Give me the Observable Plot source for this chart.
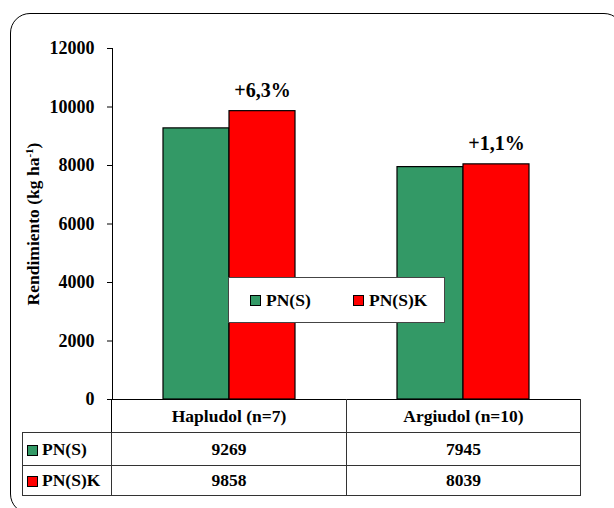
<!DOCTYPE html>
<html>
<head>
<meta charset="utf-8">
<script src="https://cdn.jsdelivr.net/npm/d3@7"></script>
<script src="https://cdn.jsdelivr.net/npm/@observablehq/plot@0.6"></script>
<style>
  html, body { margin: 0; padding: 0; background: #fff; }
  #wrap { position: relative; width: 614px; height: 508px; overflow: hidden; font-family: "Liberation Serif", Tinos, "Times New Roman", "Nimbus Roman", "DejaVu Serif", serif; font-weight: bold; color: #000; }
  #frame { position: absolute; left: 10px; top: 13px; width: 614px; height: 501px; border: 1.6px solid #000; border-radius: 20px; box-sizing: border-box; }
  #chart { position: absolute; left: 0; top: 0; }
  #ylabel { position: absolute; left: 33px; top: 224px; transform: translate(-50%, -50%) rotate(-90deg); white-space: nowrap; font-size: 17.5px; }
  #ylabel sup { font-size: 11px; vertical-align: 6px; line-height: 0; }
  #legend { position: absolute; left: 228px; top: 277px; width: 217px; height: 46px; box-sizing: border-box; border: 1px solid #444; background: #fff; font-size: 17.5px; }
  #legend .item { position: absolute; top: 0; height: 44px; display: flex; align-items: center; }
  .sw { display: inline-block; width: 9px; height: 9px; border: 1px solid #000; margin-right: 5px; }
  #tbl { position: absolute; left: 22px; top: 399px; border-collapse: collapse; table-layout: fixed; font-size: 17.5px; font-weight: bold; font-family: inherit; }
  #tbl td { border: 1px solid #333; text-align: center; padding: 0; vertical-align: middle; }
  #tbl tr.h td { border-top: 1px solid #000; height: 32px; }
  #tbl tr.h td.blank { border-top: none; border-left: none; border-right: 1px solid #000; }
  #tbl tr.r1 td { height: 32px; }
  #tbl tr.r2 td { height: 29px; }
  #tbl td.lab { text-align: left; padding-left: 4px; white-space: nowrap; }
  #tbl td.lab .sw { vertical-align: -1px; margin-right: 4px; }
</style>
</head>
<body>
<div id="wrap">
  <div id="frame"></div>
  <div id="chart"></div>
  <div id="ylabel"></div>
  <div id="legend"></div>
  <table id="tbl"></table>
</div>
<script>
// ---- data ----
const soils = ["Hapludol (n=7)", "Argiudol (n=10)"];
const series = ["PN(S)", "PN(S)K"];
const valuesPNS = [9269, 7945];
const valuesPNSK = [9858, 8039];
const increases = ["+6,3%", "+1,1%"];
const colors = ["#339966", "#ff0000"];
const yTicks = [0, 2000, 4000, 6000, 8000, 10000, 12000];
const yTitle = "Rendimiento (kg ha";
const yTitleSup = "-1";

const FONT = "'Liberation Serif', Tinos, 'Times New Roman', 'Nimbus Roman', 'DejaVu Serif', serif";
const seriesValues = [valuesPNS, valuesPNSK];
const data = soils.flatMap((soil, i) => series.map((s, j) => ({soil, series: s, value: seriesValues[j][i]})));
const labels = soils.map((soil, i) => ({soil, series: series[1], value: valuesPNSK[i], text: increases[i]}));

const chart = Plot.plot({
  width: 614,
  height: 400,
  marginTop: 48,
  marginBottom: 1,
  marginLeft: 111,
  marginRight: 34,
  style: {fontFamily: FONT, fontSize: "18px", fontWeight: "bold", color: "#000", background: "transparent", overflow: "visible"},
  fx: {domain: soils, padding: 0, axis: null, label: null},
  x: {domain: series, paddingInner: 0, paddingOuter: 0.754, axis: null, label: null},
  y: {domain: [0, 12000], ticks: yTicks, tickFormat: d3.format("d"), tickSize: 5, tickPadding: 13, label: null, line: true},
  color: {domain: series, range: colors},
  marks: [
    Plot.barY(data, {fx: "soil", x: "series", y: "value", fill: "series", stroke: "#000", strokeWidth: 1.2, inset: 0}),
    Plot.ruleY([0], {stroke: "#000", strokeWidth: 1.2}),
    Plot.text(labels, {fx: "soil", x: "series", y: "value", text: "text", lineAnchor: "bottom", dy: -14, fontSize: 20, fontWeight: "bold"})
  ]
});
chart.style.fontFamily = FONT;
document.getElementById("chart").appendChild(chart);

// y title
const yl = document.getElementById("ylabel");
yl.append(yTitle);
const sup = document.createElement("sup");
sup.textContent = yTitleSup;
yl.append(sup, ")");

// legend
const lg = document.getElementById("legend");
const legendLefts = [21, 124];
series.forEach((s, j) => {
  const it = document.createElement("div");
  it.className = "item";
  it.style.left = legendLefts[j] + "px";
  const sw = document.createElement("span");
  sw.className = "sw";
  sw.style.background = colors[j];
  it.append(sw, s);
  lg.append(it);
});

// data table
const tbl = document.getElementById("tbl");
const cg = document.createElement("colgroup");
[89, 235, 234].forEach(w => { const c = document.createElement("col"); c.style.width = w + "px"; cg.append(c); });
tbl.append(cg);
const hr = document.createElement("tr");
hr.className = "h";
const blank = document.createElement("td"); blank.className = "blank"; hr.append(blank);
soils.forEach(s => { const td = document.createElement("td"); td.textContent = s; hr.append(td); });
tbl.append(hr);
series.forEach((s, j) => {
  const tr = document.createElement("tr");
  tr.className = "r" + (j + 1);
  const lab = document.createElement("td");
  lab.className = "lab";
  const sw = document.createElement("span"); sw.className = "sw"; sw.style.background = colors[j];
  lab.append(sw, s);
  tr.append(lab);
  seriesValues[j].forEach(v => { const td = document.createElement("td"); td.textContent = v; tr.append(td); });
  tbl.append(tr);
});
</script>
</body>
</html>
